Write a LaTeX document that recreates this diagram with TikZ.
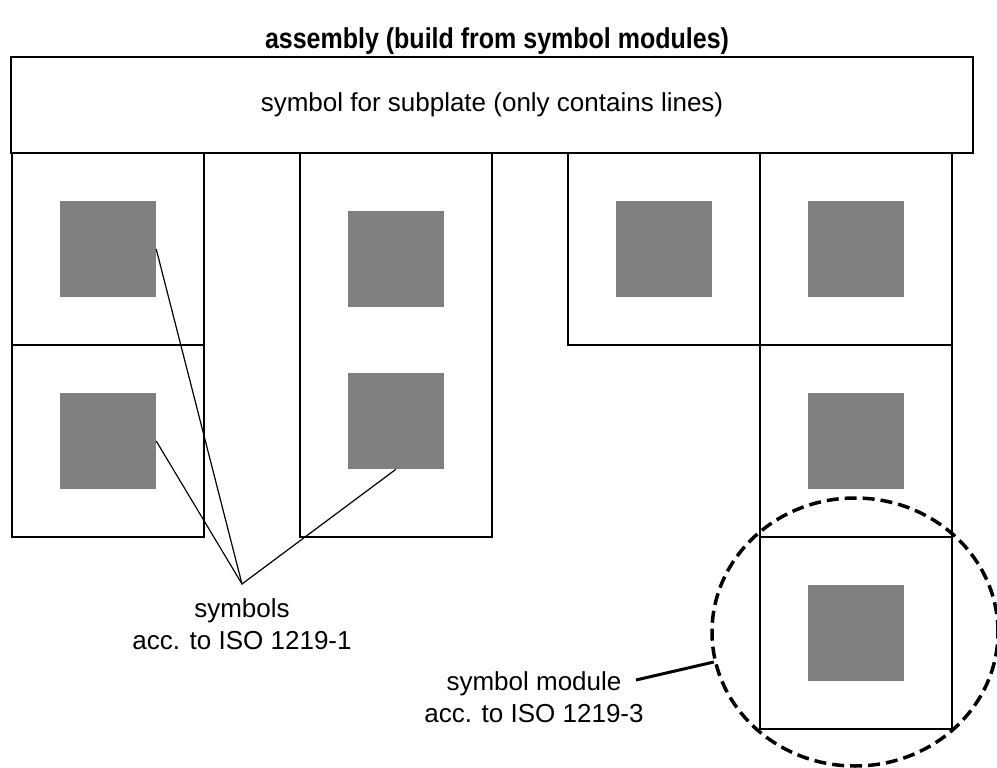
\documentclass[tikz,border=0pt]{standalone}
\usepackage{fontspec}
\setmainfont{Liberation Sans}
\usetikzlibrary{shapes.geometric}

\begin{document}
\begin{tikzpicture}[x=1pt,y=-1pt,
font=\fontsize{26}{32}\selectfont,
module/.style={draw, line width=1.6pt, inner sep=0pt, minimum size=192pt},
sym/.style={fill=black!50, inner sep=0pt, minimum size=96pt},
lead/.style={line width=1.2pt}]
\useasboundingbox (0,0) rectangle (997,768);

\node[font=\bfseries\fontsize{25}{30}\selectfont] (title) at (497,41) {\scalebox{1}[1.15]{assembly (build from symbol modules)}};
\node[draw, line width=1.6pt, inner sep=0pt, minimum width=962pt, minimum height=96pt] (plate) at (492,105) {symbol for subplate (only contains lines)};

% modules under the subplate
\node[module] (modA) at (108,249) {};
\node[module] (modB) at (108,441) {};
\node[module, minimum height=384pt] (modM) at (396,345) {};
\node[module] (modC) at (664,249) {};
\node[module] (modD) at (856,249) {};
\node[module] (modE) at (856,441) {};
\node[module] (modF) at (856,633) {};

\node[sym] (symA) at (modA) {};
\node[sym] (symB) at (modB) {};
\node[sym] (symM1) at (396,259) {};
\node[sym] (symM2) at (396,421) {};
\node[sym] (symC) at (modC) {};
\node[sym] (symD) at (modD) {};
\node[sym] (symE) at (modE) {};
\node[sym] (symF) at (modF) {};

% labels
\coordinate (meet) at (242,584);
\draw[lead] (symA.east)--(meet)--(symM2.south);
\draw[lead] (symB.east)--(meet);
\node[align=center, anchor=north, inner sep=0pt] (isoone) at (242,598) {symbols\\acc. to ISO 1219-1};

\node[ellipse, draw, line width=3.5pt, dash pattern=on 12pt off 6pt, inner sep=0pt, minimum width=286pt, minimum height=268pt] (ring) at (855,632) {};
\node[align=center, anchor=north, inner sep=0pt] (isothree) at (534,671) {symbol module\\acc. to ISO 1219-3};
\coordinate (tail) at (636,680);
\draw[line width=3pt] (tail)--(ring.192);
\end{tikzpicture}
\end{document}
